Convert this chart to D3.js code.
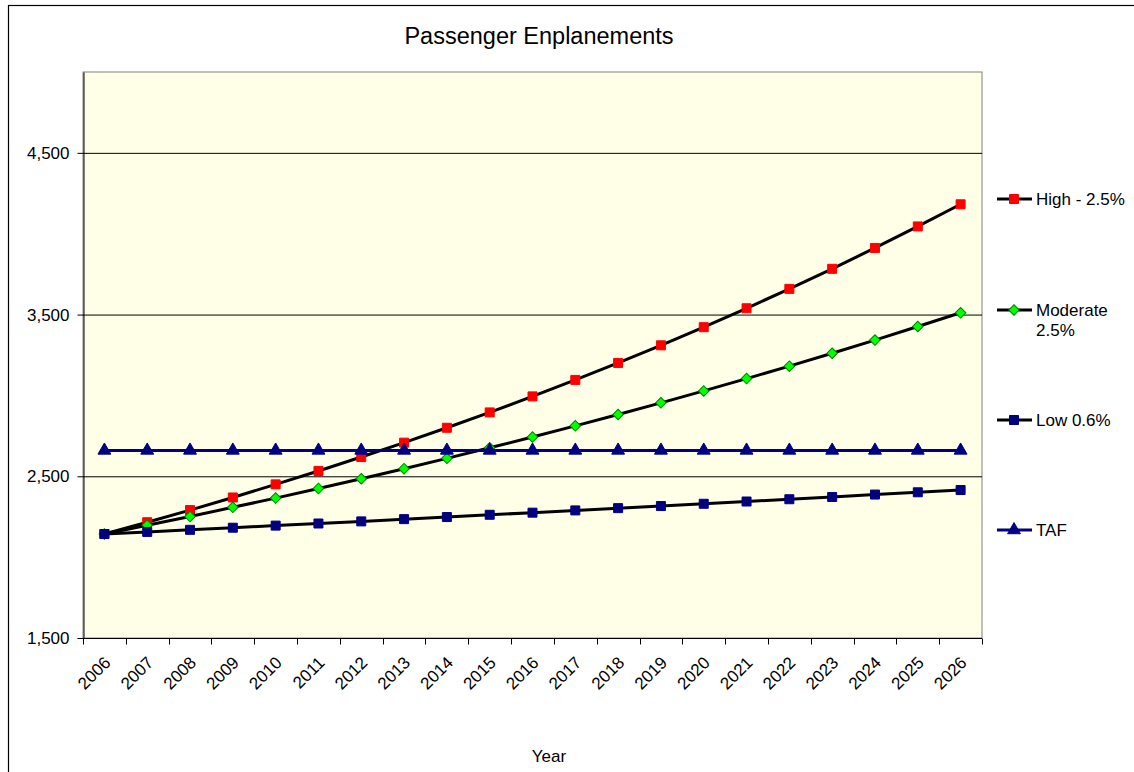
<!DOCTYPE html>
<html>
<head>
<meta charset="utf-8">
<script src="https://cdn.jsdelivr.net/npm/d3@7"></script>
<style>
body { margin: 0; background: #fff; overflow: hidden; }
text { font-family: "Liberation Sans", Arial, sans-serif; fill: #000; }
</style>
</head>
<body>
<script>
"use strict";

/////data
var years = ["2006","2007","2008","2009","2010","2011","2012","2013","2014","2015","2016",
             "2017","2018","2019","2020","2021","2022","2023","2024","2025","2026"];
var high = [2143,2216,2291,2369,2450,2533,2619,2708,2800,2895,2994,
            3096,3201,3310,3422,3539,3659,3783,3912,4045,4182];
var moderate = [2143,2197,2251,2308,2365,2425,2485,2547,2611,2676,2743,
                2812,2882,2954,3028,3104,3181,3261,3342,3426,3511];
var low = [2143,2156,2169,2182,2195,2208,2221,2235,2248,2262,2275,
           2289,2303,2316,2330,2344,2358,2372,2387,2401,2415];
var taf = [2660,2660,2660,2660,2660,2660,2660,2660,2660,2660,2660,
           2660,2660,2660,2660,2660,2660,2660,2660,2660,2660];
var yTicks = [1500,2500,3500,4500];

var series = [
  { name: ["High - 2.5%"], values: high, line: "#000", marker: "square", fill: "#ff0000", stroke: "#ff0000" },
  { name: ["Moderate", "2.5%"], values: moderate, line: "#000", marker: "diamond", fill: "#00ff00", stroke: "#008000" },
  { name: ["Low 0.6%"], values: low, line: "#000", marker: "square", fill: "#000080", stroke: "#000080" },
  { name: ["TAF"], values: taf, line: "#000080", marker: "triangle", fill: "#000080", stroke: "#000080" }
];

var width = 1134, height = 772;
var plot = { left: 83, top: 72, right: 982, bottom: 638 };
var fs = "17px";

var svg = d3.select("body").append("svg")
    .attr("width", width)
    .attr("height", height);

// outer chart border (runs off the right and bottom edges)
svg.append("rect")
    .attr("x", 8.5).attr("y", 5.5)
    .attr("width", width + 10).attr("height", height + 10)
    .attr("fill", "#fff").attr("stroke", "#000").attr("stroke-width", 1.2);

var x = d3.scaleBand().domain(years).range([plot.left, plot.right]);
var y = d3.scaleLinear().domain([1500, 5000]).range([plot.bottom, plot.top]);

// plot background with faint dotted texture
var defs = svg.append("defs");
var pat = defs.append("pattern").attr("id", "dots")
    .attr("width", 8).attr("height", 8).attr("patternUnits", "userSpaceOnUse");
pat.append("rect").attr("width", 8).attr("height", 8).attr("fill", "#ffffe8");
pat.append("rect").attr("x", 3).attr("y", 3).attr("width", 1).attr("height", 1).attr("fill", "#ffffff");

svg.append("rect")
    .attr("x", plot.left).attr("y", plot.top)
    .attr("width", plot.right - plot.left).attr("height", plot.bottom - plot.top)
    .attr("fill", "url(#dots)")
    .attr("stroke", "#808080").attr("stroke-width", 1);

// gridlines
svg.append("g").selectAll("line")
    .data(yTicks.slice(1))
  .enter().append("line")
    .attr("x1", plot.left).attr("x2", plot.right)
    .attr("y1", d => y(d) + 0.5).attr("y2", d => y(d) + 0.5)
    .attr("stroke", "#000").attr("stroke-width", 1);

///AXIS
var yAxis = svg.append("g")
    .attr("transform", "translate(" + (plot.left + 0.5) + ",0)")
    .call(d3.axisLeft(y).tickValues(yTicks).tickSize(6).tickSizeOuter(0).tickPadding(8).tickFormat(d3.format(",")));
yAxis.attr("font-size", fs).attr("font-family", null);
yAxis.select(".domain").attr("stroke", "#000");
yAxis.selectAll(".tick line").attr("stroke", "#000");
yAxis.selectAll("text").style("font-size", fs);

var xAxis = svg.append("g")
    .attr("transform", "translate(0," + (plot.bottom + 0.5) + ")");
xAxis.append("line")
    .attr("x1", plot.left).attr("x2", plot.right)
    .attr("stroke", "#000");
xAxis.selectAll(".tk")
    .data(years.concat(["end"]))
  .enter().append("line")
    .attr("x1", (d, i) => Math.round(plot.left + i * x.bandwidth()) + 0.5)
    .attr("x2", (d, i) => Math.round(plot.left + i * x.bandwidth()) + 0.5)
    .attr("y1", 0).attr("y2", 6)
    .attr("stroke", "#000");
xAxis.selectAll("text")
    .data(years)
  .enter().append("text")
    .attr("transform", d => "translate(" + (x(d) + x.bandwidth() / 2 + 3) + ",21) rotate(-45)")
    .style("text-anchor", "end")
    .attr("dy", "0.35em")
    .style("font-size", fs)
    .text(d => d);

// title & axis title
svg.append("text")
    .attr("x", 539).attr("y", 44)
    .style("text-anchor", "middle")
    .style("font-size", "23.5px")
    .text("Passenger Enplanements");

svg.append("text")
    .attr("x", 549).attr("y", 762)
    .style("text-anchor", "middle")
    .style("font-size", fs)
    .text("Year");

var sym = {
  square: { d: d3.symbol().type(d3.symbolSquare).size(81)(), rot: 0 },
  diamond: { d: d3.symbol().type(d3.symbolSquare).size(56)(), rot: 45 },
  triangle: { d: d3.symbol().type(d3.symbolTriangle).size(72)(), rot: 0 }
};

var valueline = d3.line()
    .x((d, i) => x(years[i]) + x.bandwidth() / 2)
    .y(d => y(d));

series.forEach(function(s) {
  svg.append("path")
      .attr("d", valueline(s.values))
      .attr("fill", "none")
      .attr("stroke", s.line)
      .attr("stroke-width", 3);

  svg.append("g").selectAll("path")
      .data(s.values)
    .enter().append("path")
      .attr("d", sym[s.marker].d)
      .attr("transform", (d, i) => "translate(" + (x(years[i]) + x.bandwidth() / 2) + "," + y(d) + ") rotate(" + sym[s.marker].rot + ")")
      .attr("fill", s.fill)
      .attr("stroke", s.stroke)
      .attr("stroke-width", 1);
});

// Add the Legend
var legY = [199, 310, 420, 530];
series.forEach(function(s, i) {
  var g = svg.append("g").attr("transform", "translate(0," + legY[i] + ")");
  g.append("line")
      .attr("x1", 997).attr("x2", 1032)
      .attr("stroke", s.line).attr("stroke-width", 3);
  g.append("path")
      .attr("d", sym[s.marker].d)
      .attr("transform", "translate(1014,0) rotate(" + sym[s.marker].rot + ")")
      .attr("fill", s.fill).attr("stroke", s.stroke);
  s.name.forEach(function(t, j) {
    g.append("text")
        .attr("x", 1036).attr("y", j * 20)
        .attr("dy", "0.35em")
        .style("font-size", fs)
        .text(t);
  });
});
</script>
</body>
</html>
